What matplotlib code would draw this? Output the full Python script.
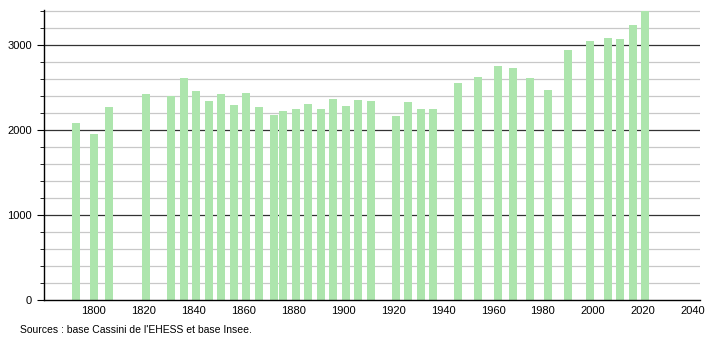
import matplotlib
matplotlib.use('Agg')
import matplotlib.pyplot as plt
from matplotlib.ticker import MultipleLocator

# Census years and population
years = [1793, 1800, 1806, 1821, 1831, 1836, 1841, 1846, 1851, 1856, 1861, 1866,
         1872, 1876, 1881, 1886, 1891, 1896, 1901, 1906, 1911, 1921, 1926, 1931,
         1936, 1946, 1954, 1962, 1968, 1975, 1982, 1990, 1999, 2006, 2011, 2016,
         2021]
population = [2082, 1953, 2270, 2420, 2400, 2610, 2460, 2340, 2420, 2290, 2435, 2270,
              2176, 2224, 2247, 2306, 2247, 2365, 2282, 2353, 2341, 2165, 2330, 2247,
              2247, 2549, 2620, 2753, 2725, 2608, 2470, 2941, 3047, 3078, 3066, 3235,
              3400]

source_text = "Sources : base Cassini de l'EHESS et base Insee."

plt.rcParams['font.family'] = ['Liberation Sans', 'DejaVu Sans']

fig = plt.figure(figsize=(7.1, 3.4), dpi=100)
ax = fig.add_axes([0.062, 0.1176, 0.924, 0.853])

# grid: light every 200, dark every 1000
for y in range(200, 3401, 200):
    if y % 1000 == 0:
        ax.axhline(y, color='#333333', lw=0.9, zorder=0)
    else:
        ax.axhline(y, color='#c8c8c8', lw=0.9, zorder=0)

ax.bar(years, population, width=3.2, color='#ade5ad', zorder=2)

ax.set_xlim(1780, 2043)
ax.set_ylim(0, 3410)

ax.set_xticks(range(1800, 2041, 20))
ax.yaxis.set_major_locator(MultipleLocator(1000))
ax.yaxis.set_minor_locator(MultipleLocator(200))
ax.tick_params(axis='x', length=0, labelsize=8, pad=4)
ax.tick_params(axis='y', which='major', length=5, labelsize=8)
ax.tick_params(axis='y', which='minor', length=3)

for s in ['top', 'right']:
    ax.spines[s].set_visible(False)
ax.spines['left'].set_linewidth(1)
ax.spines['bottom'].set_linewidth(1)

fig.text(0.028, 0.029, source_text, fontsize=7.5, ha='left', va='center')

fig.savefig('out.png', dpi=100)
